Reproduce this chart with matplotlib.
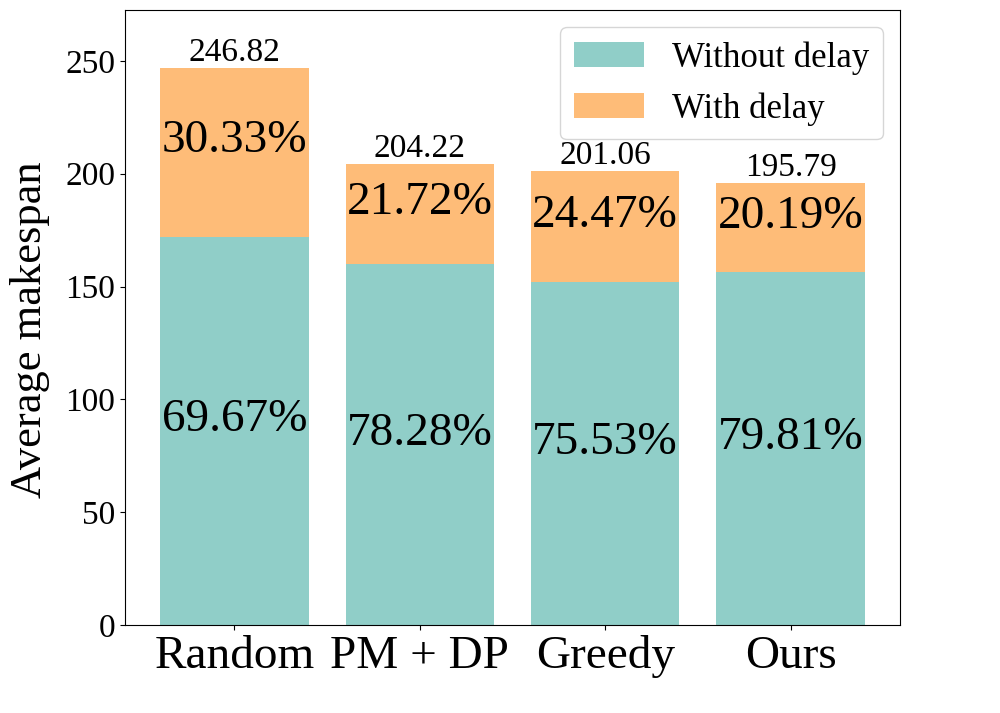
import matplotlib
matplotlib.use('Agg')
import matplotlib.pyplot as plt
import numpy as np

plt.rcParams['font.family'] = ['Liberation Serif', 'DejaVu Serif']

# data
methods = ['Random', 'PM + DP', 'Greedy', 'Ours']
totals = [246.82, 204.22, 201.06, 195.79]
pct_no_delay = [69.67, 78.28, 75.53, 79.81]
pct_delay = [30.33, 21.72, 24.47, 20.19]

totals = np.array(totals)
no_delay = totals * np.array(pct_no_delay) / 100
delay = totals - no_delay

fig, ax = plt.subplots(figsize=(10, 7.13), dpi=100)
plt.subplots_adjust(left=0.125, right=0.9, top=0.986, bottom=0.123)

x = np.arange(len(methods))
ax.bar(x, no_delay, width=0.8, color='#90CEC8', label='Without delay')
ax.bar(x, delay, width=0.8, bottom=no_delay, color='#FEBC78', label='With delay')

for i in range(len(methods)):
    ax.text(x[i], no_delay[i] / 2, '%.2f%%' % pct_no_delay[i], ha='center', fontsize=34)
    ax.text(x[i], no_delay[i] + delay[i] / 2, '%.2f%%' % pct_delay[i], ha='center', fontsize=34)
    ax.text(x[i], totals[i], '%.2f' % totals[i], ha='center', va='bottom', fontsize=24)

ax.set_xticks(x)
ax.set_xticklabels(methods, fontsize=34)
ax.tick_params(axis='y', labelsize=24)
ax.set_ylabel('Average makespan', fontsize=32)
ax.yaxis.set_label_coords(-0.097, 0.48)
ax.set_ylim(0, 272.5)
ax.set_yticks([0, 50, 100, 150, 200, 250])
ax.legend(fontsize=25, loc='upper right')

plt.savefig('out.png')
